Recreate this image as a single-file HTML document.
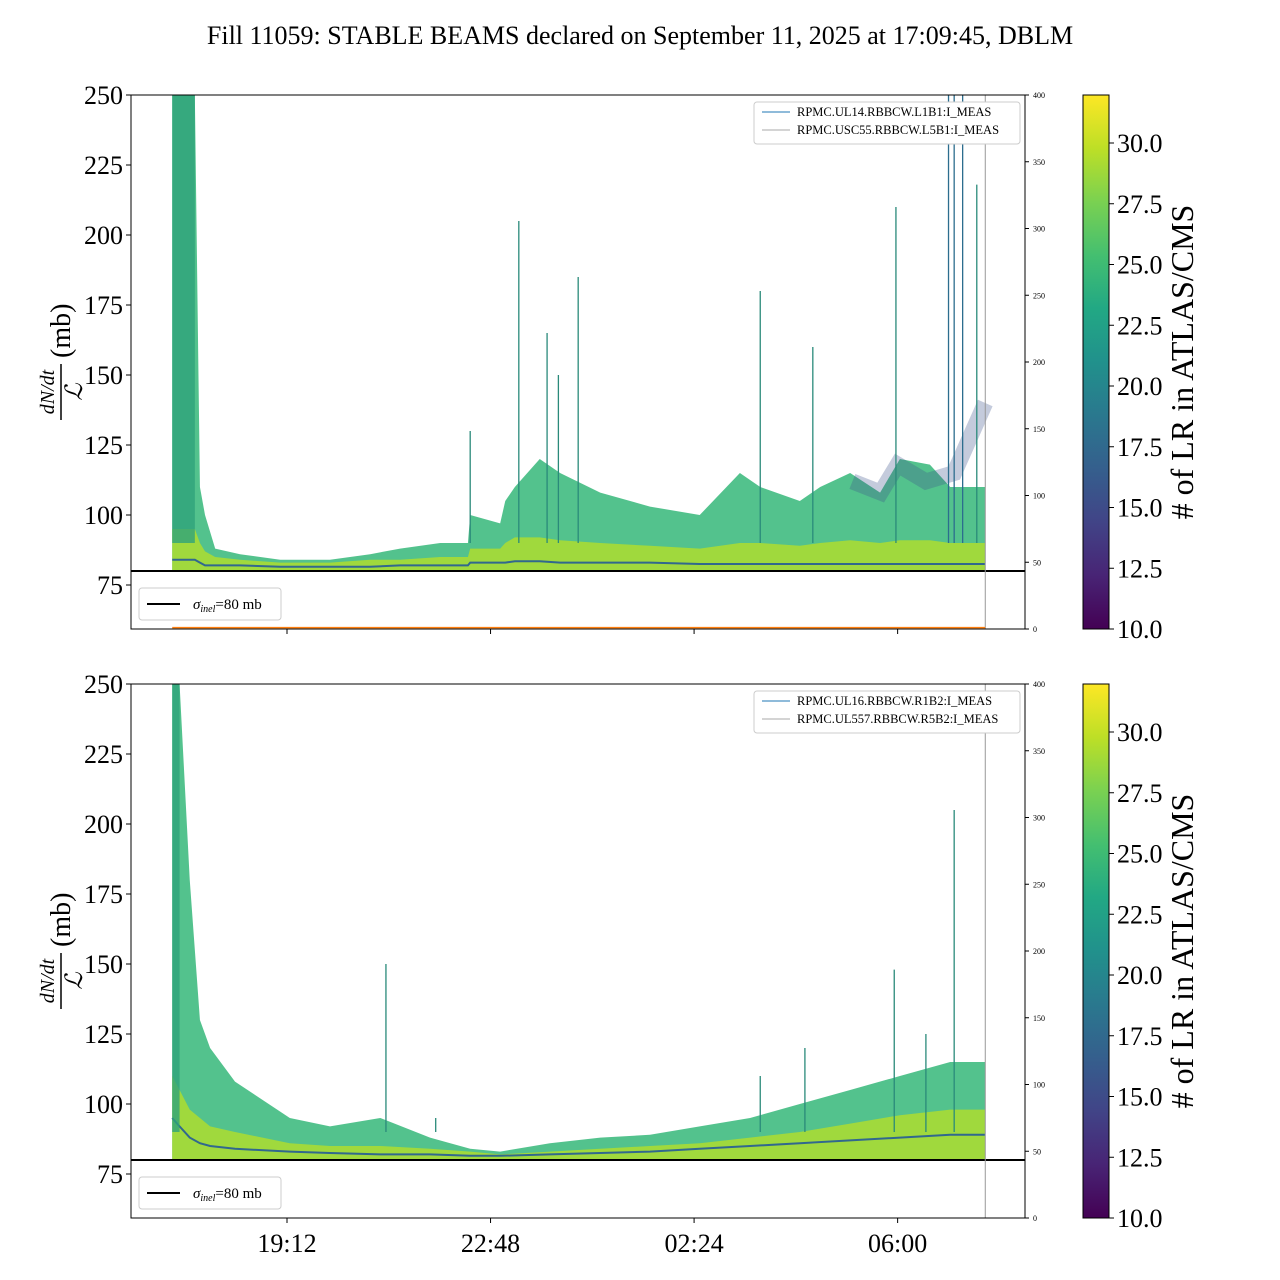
<!DOCTYPE html>
<html><head><meta charset="utf-8">
<style>
body{margin:0;background:#fff;}
svg{display:block;font-family:"Liberation Serif",serif;}
</style></head>
<body>
<svg id="chart" width="1280" height="1280" viewBox="0 0 1280 1280">
<defs>
<linearGradient id="viridis" x1="0" y1="1" x2="0" y2="0">
<stop offset="0" stop-color="#440154"/><stop offset="0.1" stop-color="#482475"/><stop offset="0.2" stop-color="#414487"/>
<stop offset="0.3" stop-color="#355f8d"/><stop offset="0.4" stop-color="#2a788e"/><stop offset="0.5" stop-color="#21918c"/>
<stop offset="0.6" stop-color="#22a884"/><stop offset="0.7" stop-color="#44bf70"/><stop offset="0.8" stop-color="#7ad151"/>
<stop offset="0.9" stop-color="#bddf26"/><stop offset="1" stop-color="#fde725"/>
</linearGradient>
</defs>
<text x="640" y="44" text-anchor="middle" font-size="26">Fill 11059: STABLE BEAMS declared on September 11, 2025 at 17:09:45, DBLM</text>
</svg>
<script>
// ---- data (time in hours, >24 means next day) ----
const xTickLabels = ["19:12","22:48","02:24","06:00"];
const xTickTimes = [19.2, 22.8, 26.4, 30.0];
const yTicks = [75,100,125,150,175,200,225,250];
const rTicks = [0,50,100,150,200,250,300,350,400];
const cbTicks = [10,12.5,15,17.5,20,22.5,25,27.5,30];

const topTimes = [17.17,17.57,17.66,17.75,17.93,18.37,19.08,19.96,20.67,21.2,21.91,22.4,22.44,22.97,23.06,23.23,23.67,24.03,24.74,25.62,26.5,27.21,27.57,28.27,28.63,29.16,29.69,30.04,30.57,30.93,31.55];
const topUpper = [250,250,110,100,88,86,84,84,86,88,90,90,100,97,105,110,120,115,108,103,100,115,110,105,110,115,108,120,118,110,110];
const topCore  = [95,95,90,87,85,84,83,83,84,84,85,85,88,88,90,92,92,91,90,89,88,90,90,89,90,91,90,91,91,90,90];
const topBase  = [84,84,83,82,82,82,81.5,81.5,81.5,82,82,82,83,83,83,83.5,83.5,83,83,83,82.5,82.5,82.5,82.5,82.5,82.5,82.5,82.5,82.5,82.5,82.5];
const topSpikeTimes = [22.44,23.3,23.8,24.35,24.0,27.57,28.5,29.97,30.9,31.0,31.15,31.4];
const topSpikeVals  = [130,205,165,185,150,180,160,210,250,250,250,218];
const topBlueTimes = [29.2,29.7,30.0,30.5,31.0,31.55];
const topBlueVals  = [112,108,118,112,115,140];

const botTimes = [17.17,17.3,17.48,17.66,17.84,18.28,19.25,19.96,20.85,21.73,22.44,22.97,23.85,24.74,25.62,26.5,27.39,28.27,29.16,30.04,30.93,31.55];
const botUpper = [250,250,180,130,120,108,95,92,95,88,84,83,86,88,89,92,95,100,105,110,115,115];
const botCore  = [110,105,98,95,92,90,86,85,85,84,83,82,83,84,85,86,88,90,93,96,98,98];
const botBase  = [95,92,88,86,85,84,83,82.5,82,82,81.5,81.5,82,82.5,83,84,85,86,87,88,89,89];
const botSpikeTimes = [20.95,21.83,27.57,28.36,29.94,30.5,31.0];
const botSpikeVals  = [150,95,110,120,148,125,205];

const panels = [
 {top:95, times:topTimes, upper:topUpper, core:topCore, base:topBase, st:topSpikeTimes, sv:topSpikeVals, bt:topBlueTimes, bv:topBlueVals, leg:["RPMC.UL14.RBBCW.L1B1:I_MEAS","RPMC.USC55.RBBCW.L5B1:I_MEAS"], name:"top"},
 {top:684, times:botTimes, upper:botUpper, core:botCore, base:botBase, st:botSpikeTimes, sv:botSpikeVals, bt:null, bv:null, leg:["RPMC.UL16.RBBCW.R1B2:I_MEAS","RPMC.UL557.RBBCW.R5B2:I_MEAS"], name:"bottom"}
];

const svg = document.getElementById('chart');
const NS = "http://www.w3.org/2000/svg";
function mk(tag, attrs, parent){const e=document.createElementNS(NS,tag);for(const k in attrs)e.setAttribute(k,attrs[k]);(parent||svg).appendChild(e);return e;}
const X0=131, X1=1025, H=534;
function xs(t){return 287+(t-19.2)*56.54;}
function ysF(top){return v=>top+(250-v)*2.8;}
function rsF(top){return v=>top+H-v*H/400;}
function cbF(top){return v=>top+H-(v-10)*24.3;}

panels.forEach(p=>{
 const ys=ysF(p.top), rs=rsF(p.top), cb=cbF(p.top);
 const g=mk('g',{});
 
 
 const clip=mk('clipPath',{id:'clip'+p.name},g);
 mk('rect',{x:X0,y:p.top,width:X1-X0,height:H},clip);
 const d=mk('g',{'clip-path':'url(#clip'+p.name+')'},g);
 const last=p.times.length-1;
 let pts=p.times.map((t,i)=>xs(t)+','+ys(p.upper[i])).join(' ');
 pts+=' '+xs(p.times[last])+','+ys(80)+' '+xs(p.times[0])+','+ys(80);
 const up=mk('polygon',{points:pts,fill:'#35b779','fill-opacity':0.85},d);
 
 
 if(p.bt){
  let bp=p.bt.map((t,i)=>xs(t)+','+ys(p.bv[i])).join(' ');
  const bl=mk('polyline',{points:bp,fill:'none',stroke:'#3b528b','stroke-width':16,'stroke-opacity':0.3},d);
  
  
 }
 let cp=p.times.map((t,i)=>xs(t)+','+ys(p.core[i])).join(' ');
 cp+=' '+xs(p.times[last])+','+ys(80)+' '+xs(p.times[0])+','+ys(80);
 const co=mk('polygon',{points:cp,fill:'#a8db34','fill-opacity':0.9},d);
 
 
 const dl=mk('polyline',{points:p.times.map((t,i)=>xs(t)+','+ys(p.base[i])).join(' '),fill:'none',stroke:'#31688e','stroke-width':2},d);
 
 
 p.st.forEach((t,i)=>{
  const s=mk('line',{x1:xs(t),x2:xs(t),y1:ys(p.sv[i]),y2:ys(90),stroke:p.sv[i]>=250?'#2c6d8e':'#2a8a7a','stroke-width':1.3},d);
  
  
 });
 const fs=mk('rect',{x:xs(p.times[0]),y:ys(250),width:xs(p.times[1])-xs(p.times[0]),height:ys(90)-ys(250),fill:'#2fa37a','fill-opacity':0.8},d);
 
 
 const sl=mk('line',{x1:X0,x2:X1,y1:ys(80),y2:ys(80),stroke:'#000','stroke-width':2},g);
 
 
 mk('line',{x1:xs(31.55),x2:xs(31.55),y1:p.top,y2:p.top+H,stroke:'#999','stroke-width':1},g);
 if(p.name==='top'){
  const ol=mk('line',{x1:xs(17.17),x2:xs(31.55),y1:rs(1),y2:rs(1),stroke:'#ff7f0e','stroke-width':1.5},g);
  
  
 }
 mk('rect',{x:X0,y:p.top,width:X1-X0,height:H,fill:'none',stroke:'#000','stroke-width':1},g);
 yTicks.forEach(v=>{
  mk('line',{x1:X0-5,x2:X0,y1:ys(v),y2:ys(v),stroke:'#000'},g);
  const t=mk('text',{x:X0-8,y:ys(v)+9,'text-anchor':'end','font-size':26},g);t.textContent=v;
 });
 rTicks.forEach(v=>{
  mk('line',{x1:X1,x2:X1+4,y1:rs(v),y2:rs(v),stroke:'#000'},g);
  const t=mk('text',{x:X1+8,y:rs(v)+3,'font-size':8},g);t.textContent=v;
 });
 xTickTimes.forEach((t,i)=>{
  mk('line',{x1:xs(t),x2:xs(t),y1:p.top+H,y2:p.top+H+5,stroke:'#000'},g);
  if(p.name==='bottom'){const tx=mk('text',{x:xs(t),y:p.top+H+34,'text-anchor':'middle','font-size':26},g);tx.textContent=xTickLabels[i];}
 });
 const yl=mk('g',{transform:'translate(62,'+(p.top+267)+') rotate(-90)'},g);
 
 
 let t1=mk('text',{x:-30,y:-8,'text-anchor':'middle','font-size':20,'font-style':'italic'},yl);t1.textContent='dN/dt';
 mk('line',{x1:-58,x2:-2,y1:-1,y2:-1,stroke:'#000','stroke-width':1.5},yl);
 let t2=mk('text',{x:-30,y:20,'text-anchor':'middle','font-size':24,'font-style':'italic'},yl);t2.textContent='ℒ';
 let t3=mk('text',{x:4,y:8,'font-size':28},yl);t3.textContent='(mb)';
 const lg=mk('g',{},g);
 
 
 mk('rect',{x:754,y:p.top+7,width:266,height:42,rx:3,fill:'#fff',stroke:'#ccc'},lg);
 ['#1f77b4','#aaa'].forEach((c,i)=>{
  mk('line',{x1:762,x2:790,y1:p.top+17+i*18,y2:p.top+17+i*18,stroke:c},lg);
  const tt=mk('text',{x:797,y:p.top+21+i*18,'font-size':12.5},lg);tt.textContent=p.leg[i];
 });
 const sg=mk('g',{},g);
 
 
 mk('rect',{x:139,y:p.top+493,width:142,height:32,rx:3,fill:'#fff',stroke:'#ccc'},sg);
 mk('line',{x1:147,x2:180,y1:p.top+509,y2:p.top+509,stroke:'#000','stroke-width':2},sg);
 const st=mk('text',{x:193,y:p.top+514,'font-size':15},sg);
 st.innerHTML='<tspan font-style="italic">σ</tspan><tspan font-size="10" dy="3" font-style="italic">inel</tspan><tspan dy="-3">=80 mb</tspan>';
 const cbg=mk('g',{},g);
 
 
 mk('rect',{x:1083,y:p.top,width:26,height:H,fill:'url(#viridis)',stroke:'#000','stroke-width':1},cbg);
 cbTicks.forEach(v=>{
  mk('line',{x1:1109,x2:1114,y1:cb(v),y2:cb(v),stroke:'#000'},cbg);
  const tt=mk('text',{x:1117,y:cb(v)+9,'font-size':26},cbg);tt.textContent=v.toFixed(1);
 });
 const cl=mk('text',{x:0,y:0,'font-size':32,'text-anchor':'middle',transform:'translate(1193,'+(p.top+267)+') rotate(-90)'},cbg);
 cl.textContent='# of LR in ATLAS/CMS';
});
</script>
</body></html>
